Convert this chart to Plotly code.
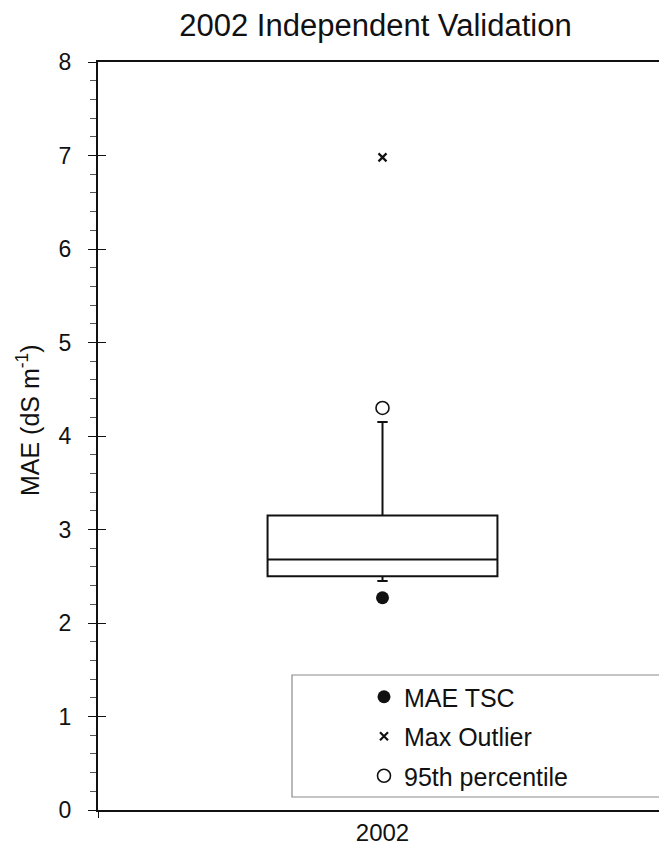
import plotly.graph_objects as go

# ---- data ----
categories = ["2002"]
q1_vals = [2.50]
median_vals = [2.68]
q3_vals = [3.15]
lower_whisker = [2.45]
upper_whisker = [4.15]
mae_tsc = [2.27]
max_outlier = [6.98]
p95 = [4.30]
y_ticks = [0, 1, 2, 3, 4, 5, 6, 7, 8]

ink = "#111111"
font_family = "Liberation Sans, Arial, sans-serif"

# page body has an 8px margin: figure is drawn at (8, 8)
W, H = 659, 844
L, R, T, B = 90, 0, 54, 42
plot_w = W - L - R
plot_h = H - T - B


def px_to_paper_x(px):
    return (px - 8 - L) / plot_w


def px_to_paper_y(py):
    return (H - B + 8 - py) / plot_h


fig = go.Figure()

fig.add_trace(go.Box(
    x=categories, q1=q1_vals, median=median_vals, q3=q3_vals,
    lowerfence=lower_whisker, upperfence=upper_whisker,
    width=0.404, whiskerwidth=0.045,
    fillcolor="white", line=dict(color=ink, width=2),
    boxpoints=False, showlegend=False, hoverinfo="skip",
))

fig.add_trace(go.Scatter(
    x=categories, y=mae_tsc, mode="markers", name="MAE TSC",
    legendgroup="a",
    marker=dict(symbol="circle", size=13, color=ink),
))
fig.add_trace(go.Scatter(
    x=categories, y=max_outlier, mode="markers", name="Max Outlier",
    legendgroup="b",
    marker=dict(symbol="x-thin", size=8, color=ink, line=dict(color=ink, width=2.2)),
))
fig.add_trace(go.Scatter(
    x=categories, y=p95, mode="markers", name="95th percentile",
    legendgroup="c",
    marker=dict(symbol="circle-open", size=13, color=ink, line=dict(color=ink, width=1.6)),
))
# empty trace so the overlay axis (inner half of the major ticks) is drawn
fig.add_trace(go.Scatter(x=[], y=[], yaxis="y2", showlegend=False, hoverinfo="skip"))

# legend frame
fig.add_shape(type="rect", xref="paper", yref="paper",
              x0=px_to_paper_x(292), x1=px_to_paper_x(662),
              y0=px_to_paper_y(797), y1=px_to_paper_y(675),
              line=dict(color="#8a8a8a", width=1.2), fillcolor="white", layer="below")

# y-axis title (positioned like the reference, slightly above plot centre)
fig.add_annotation(text="MAE (dS m<sup>-1</sup>)", textangle=-90,
                   xref="paper", yref="paper",
                   x=px_to_paper_x(28), y=px_to_paper_y(420),
                   xanchor="center", yanchor="middle", showarrow=False,
                   font=dict(size=25, color=ink))

fig.update_layout(
    width=W, height=H,
    margin=dict(l=L, r=R, t=T, b=B),
    paper_bgcolor="white", plot_bgcolor="white",
    font=dict(family=font_family, size=23, color=ink),
    title=dict(text="2002 Independent Validation", x=(375.5 - 8) / W, xanchor="center",
               y=1 - (25 - 8) / H, yanchor="middle", font=dict(size=31, color=ink)),
    showlegend=True,
    legend=dict(x=px_to_paper_x(364), xanchor="left", y=px_to_paper_y(674), yanchor="top",
                bgcolor="rgba(0,0,0,0)", borderwidth=0,
                font=dict(size=25, color=ink), tracegroupgap=4,
                itemwidth=30),
    yaxis2=dict(overlaying="y", anchor="x", side="left", range=[0, 8], tickvals=y_ticks,
                ticks="inside", ticklen=8, tickcolor=ink, tickwidth=1,
                showticklabels=False, showline=False, showgrid=False, zeroline=False),
)

fig.update_xaxes(
    type="category", range=[-0.5, 0.5],
    showline=True, linecolor=ink, linewidth=2, mirror=True,
    ticks="outside", tickson="boundaries", ticklen=6, tickcolor=ink,
    showgrid=False, zeroline=False,
    tickfont=dict(size=24, color=ink),
)
fig.update_layout(yaxis=dict(
    range=[0, 8], tickvals=y_ticks,
    showline=True, linecolor=ink, linewidth=2, mirror=False,
    ticks="outside", ticklen=8, tickcolor=ink, tickwidth=1,
    ticklabelstandoff=12,
    minor=dict(dtick=0.2, ticks="outside", ticklen=6, tickcolor="#555555", tickwidth=1),
    showgrid=False, zeroline=False,
    tickfont=dict(size=23, color=ink),
))

fig.write_html("out.html")
